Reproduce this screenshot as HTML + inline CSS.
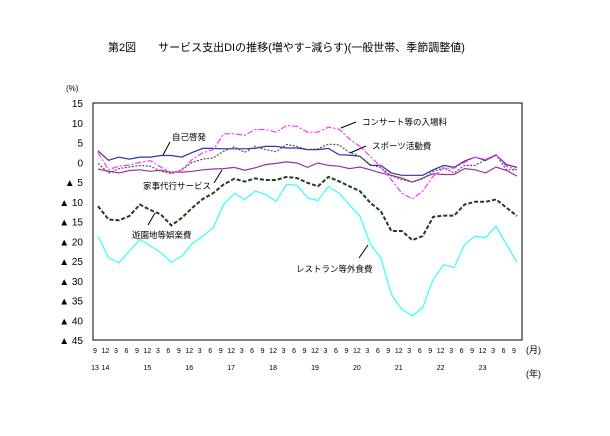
<!DOCTYPE html>
<html><head><meta charset="utf-8">
<style>
body{margin:0;background:#fff;}
svg text{font-family:"Liberation Sans","Noto Sans CJK JP",sans-serif;fill:#000;}
</style></head><body>
<svg id="chart" width="610" height="431" xmlns="http://www.w3.org/2000/svg">
<text x="108" y="51" font-size="11">第2図　　サービス支出DIの推移(増やす−減らす)(一般世帯、季節調整値)</text>
<text x="66" y="91" font-size="8">(%)</text>
<rect x="93" y="103" width="429" height="237" fill="none" stroke="#000" stroke-width="1"/>
<g id="yticks"></g><g id="xticks"></g><g id="series"></g>
<text x="526" y="353" font-size="9">(月)</text>
<text x="526" y="377" font-size="9">(年)</text>
<g font-size="8.5">
<text x="172" y="140">自己啓発</text>
<line x1="170" y1="142" x2="163" y2="155" stroke="#000"/>
<text x="143" y="189">家事代行サービス</text>
<line x1="214" y1="183" x2="222" y2="170" stroke="#000"/>
<text x="132" y="238">遊園地等娯楽費</text>
<line x1="148" y1="225" x2="155" y2="213" stroke="#000"/>
<text x="296" y="272">レストラン等外食費</text>
<line x1="359" y1="258" x2="368" y2="245" stroke="#000"/>
<text x="362" y="125">コンサート等の入場料</text>
<line x1="356" y1="122" x2="341" y2="128" stroke="#000"/>
<text x="372" y="149">スポーツ活動費</text>
<line x1="366" y1="146" x2="350" y2="153" stroke="#000"/>
</g>
</svg>
<script>
const months=[9,12,3,6,9,12,3,6,9,12,3,6,9,12,3,6,9,12,3,6,9,12,3,6,9,12,3,6,9,12,3,6,9,12,3,6,9,12,3,6,9];
const yearLabels=["13","14","","","","15","","","","16","","","","17","","","","18","","","","19","","","","20","","","","21","","","","22","","","","23","","",""];
const yTicks=[15,10,5,0,-5,-10,-15,-20,-25,-30,-35,-40,-45];
const selfDev=[2.9,0.5,1.3,0.8,1.3,1.3,1.7,1.7,1.3,2.5,3.5,3.5,3.4,3.4,3.4,3.5,4.0,4.0,3.6,3.6,3.2,3.2,3.5,1.9,1.8,1.5,-0.8,-0.8,-2.7,-3.3,-3.3,-3.3,-1.9,-0.8,-1.3,0.3,1.3,0.5,1.8,-0.6,-1.3];
const housekeeping=[-1.7,-2.3,-2.7,-2.1,-1.9,-2.3,-2.0,-2.5,-2.5,-2.3,-1.9,-1.7,-1.6,-1.3,-2.0,-1.4,-0.6,-0.3,0.1,-0.2,-1.3,-0.2,-0.8,-1.0,-1.6,-1.2,-1.9,-2.7,-3.3,-4.0,-5.0,-4.0,-2.9,-3.1,-3.1,-1.6,-1.9,-2.7,-1.2,-2.1,-3.5];
const concert=[2.5,-1.9,-1.0,-0.7,0.0,0.4,-1.2,-2.7,-1.9,0.7,2.4,3.2,7.2,7.2,6.8,8.3,8.3,7.6,9.3,9.1,7.6,7.6,8.9,8.4,5.9,4.0,1.5,-1.2,-4.4,-7.8,-9.3,-7.3,-3.5,-1.5,-1.5,0.0,1.3,0.7,1.9,-1.0,-1.9];
const sports=[-0.3,-2.7,-1.6,-1.2,-0.8,-1.0,-2.3,-2.9,-1.9,0.0,0.8,1.1,2.8,3.9,2.5,4.0,3.2,2.7,4.5,4.0,3.2,3.4,4.6,4.4,2.5,1.5,-0.6,-1.4,-3.4,-4.4,-5.0,-4.2,-2.3,-1.4,-2.7,-0.8,-0.8,0.7,1.9,-1.9,-1.9];
const amusement=[-11.1,-14.5,-14.7,-13.6,-10.7,-12.1,-13.2,-16.0,-14.1,-11.5,-9.3,-7.8,-5.6,-4.2,-4.9,-4.1,-4.5,-4.5,-3.7,-4.0,-5.2,-6.1,-3.7,-4.8,-6.1,-7.3,-10.3,-12.4,-17.4,-17.4,-19.7,-18.7,-13.8,-13.5,-13.5,-10.7,-10.0,-10.0,-9.4,-11.5,-13.6];
const restaurant=[-18.7,-24.2,-25.4,-22.5,-19.5,-21.2,-22.9,-25.3,-23.8,-20.6,-18.7,-16.6,-10.7,-7.9,-9.4,-7.3,-8.2,-9.9,-5.6,-5.8,-9.0,-9.7,-6.1,-7.8,-10.8,-13.6,-20.8,-24.2,-33.4,-37.2,-38.9,-36.8,-29.6,-25.9,-26.7,-20.8,-18.7,-19.1,-16.2,-20.8,-25.4];

const NS="http://www.w3.org/2000/svg";
const x0=98,x1=517,yTop=103,yBot=340,vMax=15,vMin=-45;
function xs(i){return x0+(x1-x0)*i/(months.length-1);}
function ys(v){return yTop+(vMax-v)*(yBot-yTop)/(vMax-vMin);}
function mk(tag,attrs,parent){const e=document.createElementNS(NS,tag);for(const k in attrs)e.setAttribute(k,attrs[k]);parent.appendChild(e);return e;}
const yg=document.getElementById('yticks');
yTicks.forEach(v=>{
  const t=mk('text',{x:83,y:ys(v)+4,'text-anchor':'end','font-size':'10'},yg);
  
  
  t.textContent=v<0?'▲ '+(-v):String(v);
});
const xg=document.getElementById('xticks');
months.forEach((m,i)=>{
  const t=mk('text',{x:xs(i)-3,y:353,'text-anchor':'middle','font-size':'7'},xg);
  
  
  t.textContent=m;
  if(yearLabels[i]){
    const y=mk('text',{x:xs(i)-3,y:370,'text-anchor':'middle','font-size':'7'},xg);
    
    
    y.textContent=yearLabels[i];
  }
});
const sg=document.getElementById('series');
function line(data,color,w,dash,name){
  const p=mk('polyline',{points:data.map((v,i)=>xs(i).toFixed(1)+','+ys(v).toFixed(1)).join(' '),fill:'none',stroke:color,'stroke-width':w},sg);
  if(dash)p.setAttribute('stroke-dasharray',dash);
  
  
}
line(restaurant,'#33ffff',1.2,null,'series-restaurant');
line(amusement,'#1f3f1f',2,'4,2','series-amusement');
line(housekeeping,'#993399',1.2,null,'series-housekeeping');
line(selfDev,'#333399',1.2,null,'series-self-development');
line(sports,'#555555',1.2,'2,1.5','series-sports');
line(concert,'#ff33ff',1.2,'6,2,2,2','series-concert');
</script>
</body></html>
